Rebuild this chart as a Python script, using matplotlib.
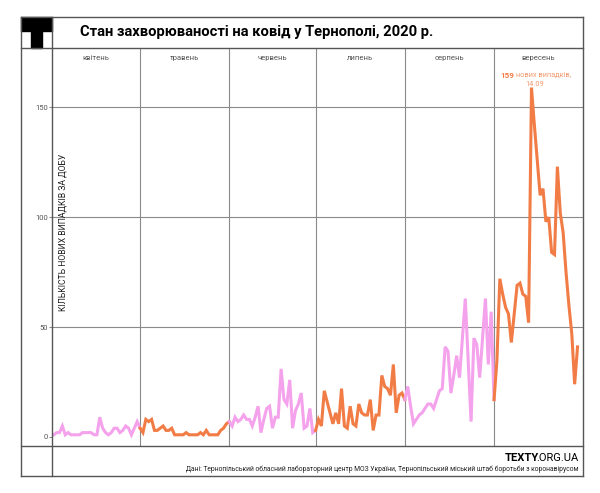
import matplotlib
matplotlib.use("Agg")
import matplotlib.pyplot as plt
from matplotlib.patches import Rectangle
from matplotlib.lines import Line2D
import matplotlib.transforms as mtransforms

plt.rcParams['font.family'] = ['Roboto', 'DejaVu Sans']

W, H = 600, 493

title = "Стан захворюваності на ковід у Тернополі, 2020 р."
ylabel = "КІЛЬКІСТЬ НОВИХ ВИПАДКІВ ЗА ДОБУ"
source = ("Дані: Тернопільський обласний лабораторний центр МОЗ України, "
          "Тернопільський міський штаб боротьби з коронавірусом")

month_names = ["квітень", "травень", "червень", "липень", "серпень", "вересень"]

# daily new cases (1 April - 30 September)
april = [1, 2, 2, 5, 1, 2, 1, 1, 1, 1, 2, 2, 2, 2, 1, 1, 9, 4, 2, 1,
         2, 4, 4, 2, 3, 5, 4, 1, 4, 7]
may = [4, 2, 8, 7, 8, 3, 3, 4, 5, 3, 3, 4, 1, 1, 1, 1, 2, 1, 1, 1,
       1, 2, 1, 3, 1, 1, 1, 1, 3, 4, 6]
june = [7, 5, 9, 7, 8, 10, 8, 8, 5, 9, 14, 2, 8, 13, 14, 4, 9, 9, 31, 17,
        15, 26, 4, 12, 15, 20, 4, 5, 13, 2]
july = [3, 8, 5, 21, 16, 11, 6, 11, 6, 22, 5, 4, 14, 6, 5, 15, 11, 10, 10, 17,
        3, 10, 10, 28, 23, 22, 19, 33, 11, 19, 20]
august = [17, 23, 14, 6, 8, 10, 11, 13, 15, 15, 13, 17, 21, 22, 41, 39, 20, 28, 37, 27,
          45, 63, 35, 7, 45, 42, 27, 45, 63, 33, 57]
september = [17, 35, 72, 65, 59, 56, 43, 56, 69, 70, 65, 64, 52, 159, 142, 126, 110, 113, 98, 100,
             84, 83, 123, 102, 93, 75, 60, 47, 24, 41]

months = [april, may, june, july, august, september]
colors = ["#f4a2ec", "#f27c45"]
peak_value, peak_date = "159", "14.09"

GRID = "#8a8a8a"
FRAME = "#555555"


def fx(x):
    return x / W


def fy(y):
    return 1 - y / H


def main():
    fig = plt.figure(figsize=(W / 100, H / 100), dpi=100)

    # frame of the card
    left, right, top, bottom = 21, 583, 17, 476
    col, title_line, foot_line = 52, 48, 446
    segs = [
        ((left, right), (top, top)),
        ((left, right), (bottom, bottom)),
        ((left, left), (top, bottom)),
        ((right, right), (top, bottom)),
        ((left, right), (title_line, title_line)),
        ((left, right), (foot_line, foot_line)),
        ((col, col), (top, bottom)),
    ]
    for xs, ys in segs:
        fig.add_artist(Line2D([fx(xs[0]), fx(xs[1])], [fy(ys[0]), fy(ys[1])],
                              color=FRAME, lw=1, transform=fig.transFigure))

    # "T" logo
    fig.add_artist(Rectangle((fx(left), fy(31)), fx(col - left), 14 / H,
                             color="black", transform=fig.transFigure))
    fig.add_artist(Rectangle((fx(31), fy(48)), fx(11), 17 / H,
                             color="black", transform=fig.transFigure))

    fig.text(fx(80), fy(32), title, fontsize=10.6, weight="bold", va="center")

    ax = fig.add_axes([fx(col), fy(foot_line), fx(right - col), (foot_line - title_line) / H])
    for s in ax.spines.values():
        s.set_visible(False)

    # day index from 1 April
    start = 0
    bounds = [-0.6]
    for i, vals in enumerate(months):
        days = list(range(start, start + len(vals)))
        ys = list(vals)
        if i + 1 < len(months):
            days.append(start + len(vals))
            ys.append(months[i + 1][0])
        ax.plot(days, ys, color=colors[i % 2], lw=2.2, solid_joinstyle="miter",
                zorder=3 + i)
        start += len(vals)
        bounds.append(start)
    bounds[-1] = 183.9

    ax.set_xlim(bounds[0], bounds[-1])
    ax.set_ylim(-4.1, 177)

    for b in bounds[1:-1]:
        ax.axvline(b, color=GRID, lw=0.8, zorder=1)
    for g in [50, 100, 150]:
        ax.axhline(g, color=GRID, lw=0.8, zorder=1)

    trans = mtransforms.blended_transform_factory(ax.transData, ax.transAxes)
    for i, name in enumerate(month_names):
        ax.text((bounds[i] + bounds[i + 1]) / 2, 0.975, name, transform=trans,
                ha="center", va="center", fontsize=5.5, color="#555555")

    ax.set_xticks([])
    ax.set_yticks([0, 50, 100, 150])
    ax.tick_params(axis="y", length=2, width=0.8, color=GRID, pad=1,
                   labelsize=5.5, labelcolor="#555555")

    ax.text(3.2, 93, ylabel, rotation=90, ha="center", va="center",
            fontsize=6.2, color="#222222")

    # peak annotation
    orange = colors[1]
    fig.text(fx(514), fy(75), peak_value, ha="right", va="center", fontsize=5.8,
             weight="bold", color=orange)
    fig.text(fx(514), fy(75), " нових випадків,", ha="left", va="center",
             fontsize=5.3, color="#f39a70")
    fig.text(fx(535), fy(84), peak_date, ha="center", va="center",
             fontsize=5.3, color="#f39a70")

    # footer: bold TEXTY followed tightly by .ORG.UA
    t2 = fig.text(fx(578), fy(458), ".ORG.UA", ha="right", va="center",
                  fontsize=8, color="black")
    fig.canvas.draw()
    bb = t2.get_window_extent()
    fig.text((bb.x0 + 3.5) / W, fy(458), "TEXTY", ha="right", va="center",
             fontsize=8, weight="bold", color="black")
    fig.text(fx(578), fy(469), source, ha="right", va="center",
             fontsize=4.9, color="#222222")

    fig.savefig("out.png", dpi=100)


if __name__ == "__main__":
    main()
